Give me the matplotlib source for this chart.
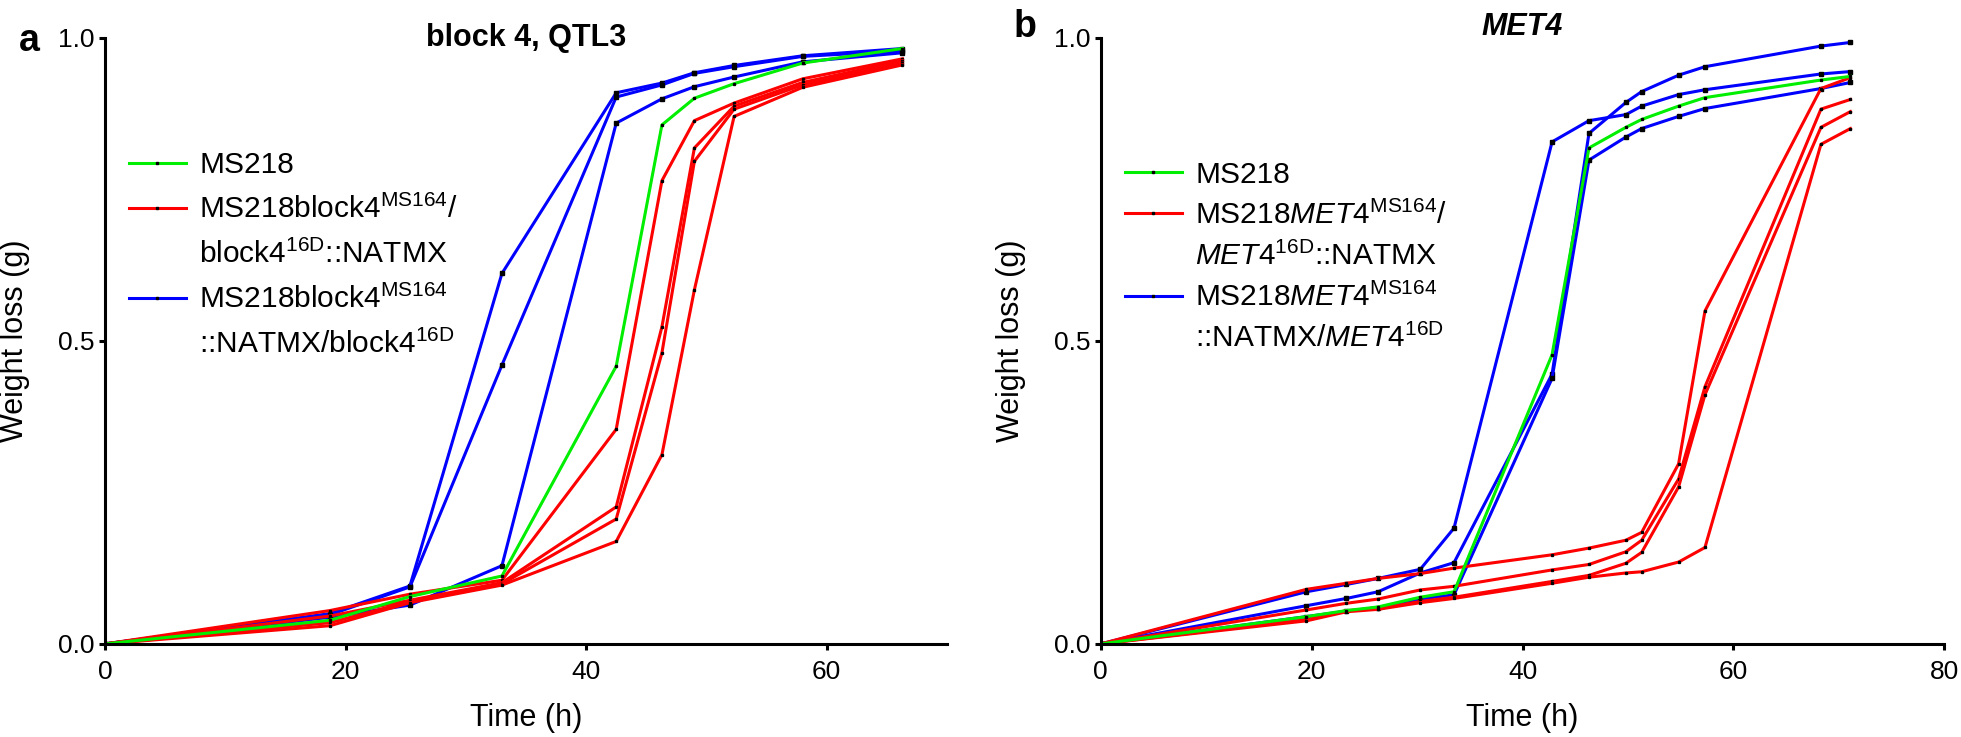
import matplotlib.pyplot as plt
from matplotlib.lines import Line2D

plt.rcParams['font.family'] = ['Liberation Sans', 'DejaVu Sans']
plt.rcParams['mathtext.fontset'] = 'custom'
plt.rcParams['mathtext.rm'] = 'Liberation Sans'
plt.rcParams['mathtext.it'] = 'Liberation Sans:italic'
plt.rcParams['mathtext.bf'] = 'Liberation Sans:bold'

# panel a: block 4, QTL3
time_a = [0, 18.7, 25.35, 33.0, 42.5, 46.3, 49.0, 52.3, 58.0, 66.3]
green_a = [[0, 0.039, 0.078, 0.112, 0.458, 0.856, 0.900, 0.924, 0.958, 0.982]]
red_a = [
    [0, 0.055, 0.082, 0.105, 0.354, 0.764, 0.863, 0.892, 0.932, 0.965],
    [0, 0.046, 0.072, 0.101, 0.226, 0.523, 0.818, 0.887, 0.926, 0.962],
    [0, 0.035, 0.070, 0.099, 0.206, 0.480, 0.796, 0.882, 0.922, 0.958],
    [0, 0.030, 0.068, 0.097, 0.169, 0.312, 0.584, 0.870, 0.918, 0.955],
]
blue_a = [
    [0, 0.050, 0.0955, 0.611, 0.909, 0.925, 0.942, 0.954, 0.970, 0.982],
    [0, 0.048, 0.094, 0.460, 0.902, 0.922, 0.941, 0.952, 0.969, 0.978],
    [0, 0.044, 0.064, 0.129, 0.859, 0.899, 0.919, 0.935, 0.960, 0.975],
]
labels_a = ["MS218",
            r"MS218block4$^{\mathrm{MS164}}$/",
            r"block4$^{\mathrm{16D}}$::NATMX",
            r"MS218block4$^{\mathrm{MS164}}$",
            r"::NATMX/block4$^{\mathrm{16D}}$"]

# panel b: MET4
time_b = [0, 19.5, 23.3, 26.3, 30.3, 33.5, 42.8, 46.3, 49.8, 51.3, 54.8, 57.3, 68.3, 71.1]
green_b = [[0, 0.045, 0.055, 0.061, 0.077, 0.086, 0.477, 0.818, 0.852, 0.865, 0.887, 0.901, 0.930, 0.936]]
red_b = [
    [0, 0.090, 0.100, 0.108, 0.116, 0.125, 0.147, 0.158, 0.171, 0.184, 0.297, 0.549, 0.916, 0.934],
    [0, 0.056, 0.067, 0.074, 0.089, 0.095, 0.122, 0.131, 0.152, 0.171, 0.272, 0.424, 0.882, 0.898],
    [0, 0.040, 0.055, 0.058, 0.070, 0.077, 0.103, 0.113, 0.133, 0.151, 0.259, 0.411, 0.852, 0.878],
    [0, 0.038, 0.053, 0.057, 0.068, 0.075, 0.100, 0.110, 0.117, 0.119, 0.135, 0.159, 0.824, 0.850],
]
blue_b = [
    [0, 0.086, 0.098, 0.108, 0.123, 0.191, 0.828, 0.863, 0.873, 0.887, 0.906, 0.914, 0.940, 0.944],
    [0, 0.063, 0.075, 0.086, 0.117, 0.134, 0.445, 0.842, 0.893, 0.911, 0.938, 0.952, 0.986, 0.992],
    [0, 0.045, 0.054, 0.060, 0.074, 0.081, 0.438, 0.798, 0.836, 0.850, 0.870, 0.883, 0.916, 0.926],
]
labels_b = ["MS218",
            r"MS218$\mathit{MET4}^{\mathrm{MS164}}$/",
            r"$\mathit{MET4}^{\mathrm{16D}}$::NATMX",
            r"MS218$\mathit{MET4}^{\mathrm{MS164}}$",
            r"::NATMX/$\mathit{MET4}^{\mathrm{16D}}$"]

GREEN, RED, BLUE = '#00ee00', '#ff0000', '#0000ff'
LW = 2.2

fig = plt.figure(figsize=(19.61, 7.37), dpi=100)
ax1 = fig.add_axes([105/1961, 1-643.9/737, 842/1961, 606.3/737])
ax2 = fig.add_axes([1100.8/1961, 1-643.9/737, 843.5/1961, 606.3/737])


def draw(ax, t, blues, reds, greens, labels, xmax, xticks, spacing, leg_y):
    for y in blues:
        ax.plot(t, y, '-', color=BLUE, lw=LW, marker='s', ms=2.6, mfc='k', mec='k')
    for y in reds:
        ax.plot(t, y, '-', color=RED, lw=LW, marker='s', ms=1.4, mfc='k', mec='k')
    for y in greens:
        ax.plot(t, y, '-', color=GREEN, lw=LW, marker='s', ms=1.4, mfc='k', mec='k')

    ax.set_xlim(0, xmax)
    ax.set_ylim(0, 1)
    ax.set_xticks(xticks)
    ax.set_yticks([0, 0.5, 1.0])
    ax.set_yticklabels(['0.0', '0.5', '1.0'])
    for s in ['top', 'right']:
        ax.spines[s].set_visible(False)
    for s in ['left', 'bottom']:
        ax.spines[s].set_linewidth(2.2)
    ax.tick_params(axis='both', direction='out', length=4.5, width=2.2, labelsize=19)
    ax.tick_params(axis='x', pad=7)
    ax.tick_params(axis='y', pad=3)
    ax.set_xlabel('Time (h)', fontsize=22)
    ax.set_ylabel('Weight loss (g)', fontsize=22)
    ax.xaxis.set_label_coords(0.5, -0.097)
    ax.yaxis.set_label_coords(-0.089, 0.5)

    def h(c):
        return Line2D([], [], color=c, lw=LW, marker='s', ms=1.6, mfc='k', mec='k')
    blank = Line2D([], [], color='none')
    ax.legend([h(GREEN), h(RED), blank, h(BLUE), blank], labels,
              loc='upper left', bbox_to_anchor=(0.0285, leg_y), frameon=False,
              fontsize=21.5, handlelength=1.9, handletextpad=0.45,
              labelspacing=spacing, borderpad=0, borderaxespad=0, numpoints=1)


draw(ax1, time_a, blue_a, red_a, green_a, labels_a, 70, [0, 20, 40, 60], 0.53, 0.813)
draw(ax2, time_b, blue_b, red_b, green_b, labels_b, 80, [0, 20, 40, 60, 80], 0.40, 0.797)

ax1.text(0.5, 1.0, 'block 4, QTL3', transform=ax1.transAxes, ha='center', va='center',
         fontsize=22, fontweight='bold')
ax2.text(0.5, 1.018, 'MET4', transform=ax2.transAxes, ha='center', va='center',
         fontsize=22, fontweight='bold', fontstyle='italic')

fig.text(19/1961, 1-51/737, 'a', fontsize=27, fontweight='bold', va='baseline')
fig.text(1014/1961, 1-37/737, 'b', fontsize=27, fontweight='bold', va='baseline')

plt.savefig('out.png', dpi=100)
